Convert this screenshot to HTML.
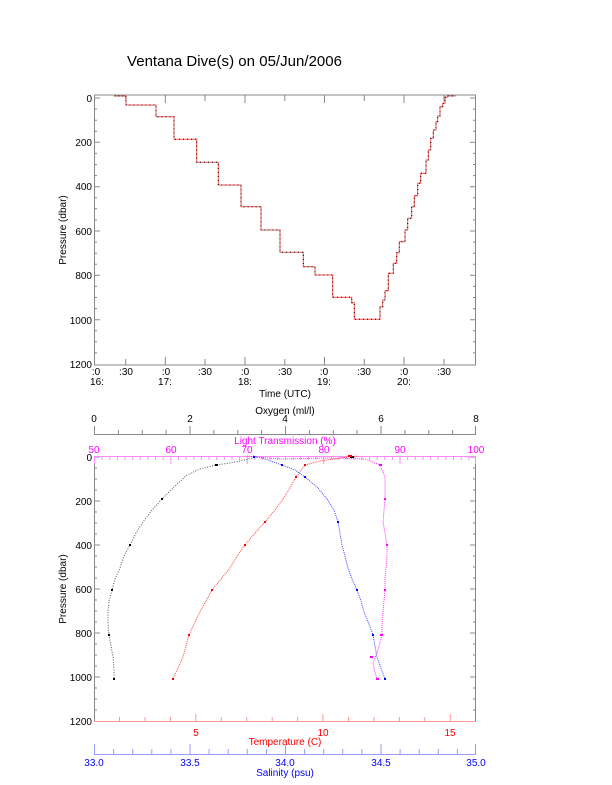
<!DOCTYPE html>
<html><head><meta charset="utf-8"><style>
html,body{margin:0;padding:0;background:#fff}
svg{display:block;font-family:"Liberation Sans",sans-serif}
</style></head><body>
<svg width="612" height="785" viewBox="0 0 612 785" xmlns="http://www.w3.org/2000/svg">
<text x="127" y="66" font-size="15" textLength="215">Ventana Dive(s) on 05/Jun/2006</text>

<!-- TOP PLOT -->
<g stroke="#888" fill="none" stroke-width="1">
<rect x="94.5" y="95" width="381" height="270"/>
<path d="M94,98h6M94,109.1h3M94,120.2h3M94,131.3h3M94,142.3h6M94,153.4h3M94,164.5h3M94,175.6h3M94,186.7h6M94,197.8h3M94,208.8h3M94,219.9h3M94,231h6M94,242.1h3M94,253.2h3M94,264.3h3M94,275.3h6M94,286.4h3M94,297.5h3M94,308.6h3M94,319.7h6M94,330.8h3M94,341.8h3M94,352.9h3"/>
<path d="M476,98h-6M476,109.1h-3M476,120.2h-3M476,131.3h-3M476,142.3h-6M476,153.4h-3M476,164.5h-3M476,175.6h-3M476,186.7h-6M476,197.8h-3M476,208.8h-3M476,219.9h-3M476,231h-6M476,242.1h-3M476,253.2h-3M476,264.3h-3M476,275.3h-6M476,286.4h-3M476,297.5h-3M476,308.6h-3M476,319.7h-6M476,330.8h-3M476,341.8h-3M476,352.9h-3"/>
<path d="M125.7,365v-6M165.3,365v-8M205,365v-6M245,365v-8M284.8,365v-6M324.5,365v-8M364.3,365v-6M404,365v-8M444,365v-6"/>
<path d="M125.7,95v6M165.3,95v8M205,95v6M245,95v8M284.8,95v6M324.5,95v8M364.3,95v6M404,95v8M444,95v6"/>
</g>
<g font-size="10" text-anchor="end">
<text x="92" y="102">0</text><text x="92" y="146">200</text><text x="92" y="190">400</text><text x="92" y="235">600</text><text x="92" y="279">800</text><text x="92" y="324">1000</text><text x="92" y="368">1200</text>
</g>
<g font-size="10" text-anchor="middle">
<text x="96" y="375">:0</text><text x="97" y="385">16:</text>
<text x="126" y="375">:30</text>
<text x="166" y="375">:0</text><text x="165" y="385">17:</text>
<text x="205" y="375">:30</text>
<text x="245" y="375">:0</text><text x="245" y="385">18:</text>
<text x="285" y="375">:30</text>
<text x="324" y="375">:0</text><text x="324" y="385">19:</text>
<text x="364" y="375">:30</text>
<text x="404" y="375">:0</text><text x="404" y="385">20:</text>
<text x="444" y="375">:30</text>
<text x="285" y="397">Time (UTC)</text>
</g>
<text transform="translate(66,230) rotate(-90)" font-size="10" text-anchor="middle">Pressure (dbar)</text>
<g fill="none">
<path id="dive" d="M114.3,96H126V105H131.7V105H156V116.7H160H174V139.3H178.3H196.7V162.3H201H218.3V185H221.7H241V206.7H244.3H261V230H264.3H280V252.3H286H303.3V266.7H305H315V275H332.7V297.3H337.3H351.7V302.7H354.3V319.3H356.7H380V306.7H382.7V300H385V290.7H388.3V273.3H393.3V263.3H396.7V252.7H399.3V241.7H405V230H407.7V218.3H411.7V206.7H414.3V195.7H417.7V183.3H420.7V173.3H426V160H428.3V150H430.7V138.3H433.3V130H436V121.7H437.7V116H440V106.7H442.7V103.3H445V97.3H447.3V96H455.7" stroke="#f55" stroke-width="1"/>
<path d="M114.3,96H126V105H131.7V105H156V116.7H160H174V139.3H178.3H196.7V162.3H201H218.3V185H221.7H241V206.7H244.3H261V230H264.3H280V252.3H286H303.3V266.7H305H315V275H332.7V297.3H337.3H351.7V302.7H354.3V319.3H356.7H380V306.7H382.7V300H385V290.7H388.3V273.3H393.3V263.3H396.7V252.7H399.3V241.7H405V230H407.7V218.3H411.7V206.7H414.3V195.7H417.7V183.3H420.7V173.3H426V160H428.3V150H430.7V138.3H433.3V130H436V121.7H437.7V116H440V106.7H442.7V103.3H445V97.3H447.3V96H455.7" stroke="#000" stroke-width="1" stroke-dasharray="1 3"/>
</g>

<!-- BOTTOM PLOT -->
<g stroke="#888" fill="none">
<path d="M94.5,456V721.5M475.5,456V721.5"/>
<path d="M94,457h6M94,468h3M94,479h3M94,490h3M94,501h6M94,512h3M94,523h3M94,534h3M94,545h6M94,556h3M94,567h3M94,578h3M94,589h6M94,600h3M94,611h3M94,622h3M94,633h6M94,644h3M94,655h3M94,666h3M94,677h6M94,688h3M94,699h3M94,710h3"/>
<path d="M476,457h-6M476,468h-3M476,479h-3M476,490h-3M476,501h-6M476,512h-3M476,523h-3M476,534h-3M476,545h-6M476,556h-3M476,567h-3M476,578h-3M476,589h-6M476,600h-3M476,611h-3M476,622h-3M476,633h-6M476,644h-3M476,655h-3M476,666h-3M476,677h-6M476,688h-3M476,699h-3M476,710h-3"/>
<!-- oxygen axis -->
<path d="M94,434.5H476M94.5,426v8M118.4,430v4M142.3,430v4M166.1,430v4M190,426v8M213.9,430v4M237.8,430v4M261.6,430v4M285.5,426v8M309.4,430v4M333.3,430v4M357.1,430v4M381,426v8M404.9,430v4M428.8,430v4M452.6,430v4M475.5,426v8"/>
</g>
<g font-size="10" text-anchor="middle">
<text x="94" y="422">0</text><text x="190" y="422">2</text><text x="285" y="422">4</text><text x="381" y="422">6</text><text x="476" y="422">8</text>
<text x="285" y="414">Oxygen (ml/l)</text>
</g>
<g font-size="10" text-anchor="end">
<text x="92" y="461">0</text><text x="92" y="505">200</text><text x="92" y="549">400</text><text x="92" y="593">600</text><text x="92" y="637">800</text><text x="92" y="681">1000</text><text x="92" y="725">1200</text>
</g>
<text transform="translate(66,589) rotate(-90)" font-size="10" text-anchor="middle">Pressure (dbar)</text>

<!-- light transmission axis -->
<g stroke="#f8f" fill="none">
<path d="M94,456.5H476"/>
<path d="M94.5,456v8M102,456v4M109.8,456v4M117.4,456v4M125,456v4M132.7,456v4M140.3,456v4M148,456v4M155.6,456v4M163.2,456v4M170.9,456v8M178.5,456v4M186.1,456v4M193.8,456v4M201.4,456v4M209,456v4M216.7,456v4M224.3,456v4M232,456v4M239.6,456v4M247.3,456v8M254.9,456v4M262.5,456v4M270.2,456v4M277.8,456v4M285.5,456v4M293.1,456v4M300.7,456v4M308.4,456v4M316,456v4M323.7,456v8M331.3,456v4M338.9,456v4M346.6,456v4M354.2,456v4M361.9,456v4M369.5,456v4M377.1,456v4M384.8,456v4M392.4,456v4M400,456v8M407.7,456v4M415.3,456v4M423,456v4M430.6,456v4M438.2,456v4M445.9,456v4M453.5,456v4M461.2,456v4M468.8,456v4M475.5,456v8"/>
</g>
<g font-size="10" text-anchor="middle" fill="#f0f">
<text x="94" y="453">50</text><text x="171" y="453">60</text><text x="247" y="453">70</text><text x="324" y="453">80</text><text x="400" y="453">90</text><text x="476" y="453">100</text>
<text x="285" y="444">Light Transmission (%)</text>
</g>

<!-- temperature axis -->
<g stroke="#f99" fill="none">
<path d="M94,721.5H476"/>
<path d="M119.5,721v-4M145,721v-4M170.4,721v-4M195.8,721v-7M221.3,721v-4M246.7,721v-4M272.2,721v-4M297.6,721v-4M323,721v-7M348.5,721v-4M374,721v-4M399.4,721v-4M424.8,721v-4M450.3,721v-7"/>
</g>
<g font-size="10" text-anchor="middle" fill="#f00">
<text x="196" y="736">5</text><text x="323" y="736">10</text><text x="450" y="736">15</text>
<text x="285" y="745">Temperature (C)</text>
</g>

<!-- salinity axis -->
<g stroke="#99f" fill="none">
<path d="M94,754.5H476"/>
<path d="M94.5,754v-10M113.6,754v-5M132.7,754v-5M151.8,754v-5M170.9,754v-5M190,754v-10M209.1,754v-5M228.2,754v-5M247.3,754v-5M266.4,754v-5M285.5,754v-10M304.6,754v-5M323.7,754v-5M342.8,754v-5M361.9,754v-5M381,754v-10M400.1,754v-5M419.2,754v-5M438.3,754v-5M457.4,754v-5M475.5,754v-10"/>
</g>
<g font-size="10" text-anchor="middle" fill="#00f">
<text x="94" y="766">33.0</text><text x="190" y="766">33.5</text><text x="285" y="766">34.0</text><text x="381" y="766">34.5</text><text x="476" y="766">35.0</text>
<text x="285" y="776">Salinity (psu)</text>
</g>

<!-- profiles -->
<g fill="none" stroke-width="1">
<polyline points="257,457 240,461 230,463 216,465 200,469 187,475 175,486 162,499 152,510 143,522 136,533 130,545 124,556 120,568 115,579 112,590 109,601 108,612 108,624 109,635 111,646 113,657 114,668 114,679" stroke="#555" stroke-dasharray="1 1.5"/>
<polyline points="357,456 340,458 320,461 305,465 296,477 290,488 283,499 275,510 265,522 255,533 245,545 237,556 230,568 221,579 212,590 206,601 200,612 194,624 189,635 186,646 183,657 178,668 173,679" stroke="#f44" stroke-dasharray="1 1"/>
<polyline points="253,456 265,459 282,465 295,470 305,477 318,488 327,499 334,510 338,522 340,533 342,545 345,556 348,568 352,579 357,590 361,601 364,612 369,624 373,635 375,646 377,657 381,668 385,679" stroke="#44f" stroke-dasharray="1 1"/>
<polyline points="247,456 280,459 330,458 365,459 380,465 385,477 385,488 385,499 384,510 383,522 385,533 387,545 387,556 386,568 385,579 385,590 384,601 383,612 382,624 382,635 378,650 373,663 375,672 377,679" stroke="#f3f" stroke-dasharray="1 1"/>
</g>
<g fill="#000">
<rect x="215" y="464" width="3" height="2"/><rect x="161" y="498" width="2" height="2"/><rect x="129" y="544" width="2" height="2"/><rect x="111" y="589" width="2" height="2"/><rect x="108" y="634" width="2" height="2"/><rect x="113" y="678" width="2" height="2"/><rect x="350" y="456" width="4" height="2"/>
</g>
<g fill="#f00">
<rect x="304" y="464" width="2" height="2"/><rect x="295" y="476" width="2" height="2"/><rect x="264" y="521" width="2" height="2"/><rect x="244" y="544" width="2" height="2"/><rect x="211" y="589" width="2" height="2"/><rect x="188" y="634" width="2" height="2"/><rect x="172" y="678" width="2" height="2"/><rect x="348" y="455" width="4" height="2"/>
</g>
<g fill="#00f">
<rect x="281" y="464" width="2" height="2"/><rect x="304" y="476" width="2" height="2"/><rect x="337" y="521" width="2" height="2"/><rect x="356" y="589" width="2" height="2"/><rect x="372" y="634" width="2" height="2"/><rect x="384" y="678" width="2" height="2"/><rect x="253" y="456" width="2" height="2"/>
</g>
<g fill="#f0f">
<rect x="379" y="464" width="3" height="2"/><rect x="384" y="498" width="2" height="2"/><rect x="386" y="544" width="2" height="2"/><rect x="384" y="589" width="2" height="2"/><rect x="380" y="634" width="3" height="2"/><rect x="376" y="678" width="3" height="2"/><rect x="370" y="656" width="3" height="2"/>
</g>
</svg>
</body></html>
